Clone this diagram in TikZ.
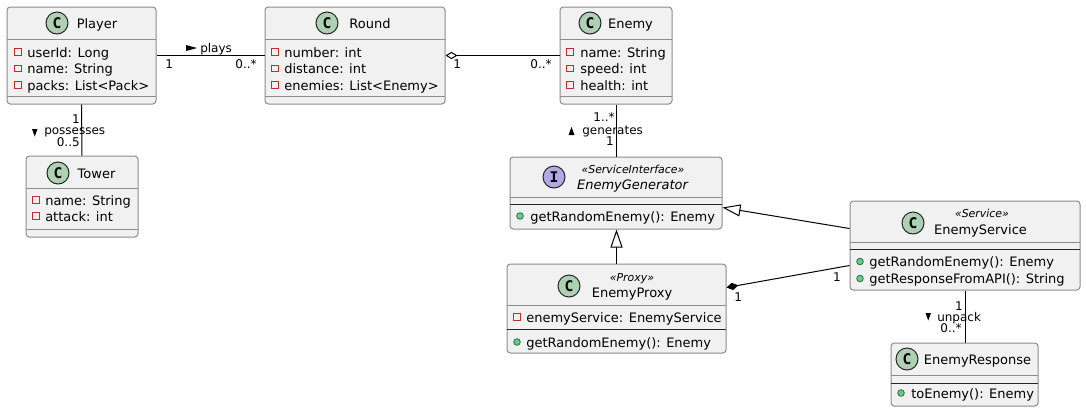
\documentclass[tikz,border=0pt]{standalone}
\usepackage{fontspec}
\setmainfont{DejaVu Sans}
\newfontfamily\circfont{DejaVu Sans Mono}
\usetikzlibrary{fit,arrows.meta,calc}
\definecolor{boxfill}{HTML}{F1F1F1}
\definecolor{boxborder}{HTML}{8C8C8C}
\definecolor{cgreen}{HTML}{ADD1B2}
\definecolor{ipurple}{HTML}{B4A7E5}
\definecolor{privred}{HTML}{C82930}
\definecolor{pubfill}{HTML}{84BE84}
\definecolor{pubdraw}{HTML}{038048}
\tikzset{
  cls/.style={draw=boxborder, fill=boxfill, rounded corners=2.5pt, line width=0.75pt, inner sep=0pt},
  sepline/.style={draw=boxborder, line width=0.75pt},
  msepline/.style={draw=black!85, line width=0.75pt},
  attr/.style={font=\fontsize{9.75}{11}\selectfont, inner sep=0pt, anchor=base west},
  cname/.style={font=\fontsize{9.75}{11}\selectfont, inner sep=0pt, anchor=base},
  stereo/.style={font=\fontsize{8.2}{9}\selectfont\itshape, inner sep=0pt, anchor=base},
  lbl/.style={font=\fontsize{9}{10}\selectfont, inner sep=0pt, anchor=base west},
  lblr/.style={font=\fontsize{9}{10}\selectfont, inner sep=0pt, anchor=base east},
  dirmark/.style={fill=black},
  circC/.style={circle, draw=black!85, line width=0.75pt, fill=cgreen, minimum size=16.5pt, inner sep=0pt, font=\fontsize{11}{11}\selectfont\circfont\bfseries},
  circI/.style={circC, fill=ipurple},
  priv/.style={draw=privred, line width=0.75pt},
  pub/.style={draw=pubdraw, fill=pubfill, line width=0.6pt},
  link/.style={draw=black, line width=0.75pt},
}
\newcommand{\privat}[2]{\draw[priv] (#1,#2) ++(-3.2,-3.2) rectangle ++(6.4,6.4);}
\newcommand{\publc}[2]{\draw[pub] (#1,#2) circle[radius=3.3];}
\begin{document}
\begin{tikzpicture}[x=0.75pt,y=-0.75pt]
\useasboundingbox (0,0) rectangle (1086,412);

% ---------- Player ----------
\node[cls, fit={(7,7) (156,104)}] (player) {};
\draw[sepline] (7,39) -- (156,39);
\draw[sepline] (7,96) -- (156,96);
\node[circC] (cplayer) at (57,23) {C};
\node[cname] (nplayer) at (97,28) {Player};
\privat{18}{52}\node[attr] (pl1) at (27,57) {userId: Long};
\privat{18}{68.5}\node[attr] (pl2) at (27,73.5) {name: String};
\privat{18}{85}\node[attr] (pl3) at (27,90) {packs: List<Pack>};

% ---------- Round ----------
\node[cls, fit={(265,7) (445,104)}] (round) {};
\draw[sepline] (265,39) -- (445,39);
\draw[sepline] (265,96) -- (445,96);
\node[circC] (cround) at (327,23) {C};
\node[cname] (nround) at (370,28) {Round};
\privat{275}{52}\node[attr] (ro1) at (284,57) {number: int};
\privat{275}{68.5}\node[attr] (ro2) at (284,73.5) {distance: int};
\privat{275}{85}\node[attr] (ro3) at (284,90) {enemies: List<Enemy>};

% ---------- Enemy ----------
\node[cls, fit={(560,7) (672,104)}] (enemy) {};
\draw[sepline] (560,39) -- (672,39);
\draw[sepline] (560,96) -- (672,96);
\node[circC] (cenemy) at (590,23) {C};
\node[cname] (nenemy) at (630.5,28) {Enemy};
\privat{570}{52}\node[attr] (en1) at (580,57) {name: String};
\privat{570}{68.5}\node[attr] (en2) at (580,73.5) {speed: int};
\privat{570}{85}\node[attr] (en3) at (580,90) {health: int};

% ---------- Tower ----------
\node[cls, fit={(26,156) (138,237)}] (tower) {};
\draw[sepline] (26,188) -- (138,188);
\draw[sepline] (26,229) -- (138,229);
\node[circC] (ctower) at (58,173) {C};
\node[cname] (ntower) at (96.5,178) {Tower};
\privat{36}{200}\node[attr] (to1) at (45,205) {name: String};
\privat{36}{216}\node[attr] (to2) at (45,221) {attack: int};

% ---------- EnemyGenerator ----------
\node[cls, fit={(510,157) (722,229)}] (gen) {};
\draw[sepline] (510,197) -- (722,197);
\draw[msepline] (510,204) -- (722,204);
\node[circI] (cgen) at (554,177) {I};
\node[stereo] (sgen) at (633,173) {«ServiceInterface»};
\node[cname, font=\fontsize{9.75}{11}\selectfont\itshape] (ngen) at (632.5,189) {EnemyGenerator};
\publc{520}{216}\node[attr] (ge1) at (530,221) {getRandomEnemy(): Enemy};

% ---------- EnemyService ----------
\node[cls, fit={(850,201) (1080,290)}] (service) {};
\draw[sepline] (850,242) -- (1080,242);
\draw[msepline] (850,249) -- (1080,249);
\node[circC] (cservice) at (913,223) {C};
\node[stereo] (sservice) at (982,217) {«Service»};
\node[cname] (nservice) at (980.5,234) {EnemyService};
\publc{860}{261.5}\node[attr] (se1) at (869,266.5) {getRandomEnemy(): Enemy};
\publc{860}{278.5}\node[attr] (se2) at (869,283.5) {getResponseFromAPI(): String};

% ---------- EnemyProxy ----------
\node[cls, fit={(507,264) (726,353)}] (proxy) {};
\draw[sepline] (507,305) -- (726,305);
\draw[msepline] (507,329) -- (726,329);
\node[circC] (cproxy) at (569,286) {C};
\node[stereo] (sproxy) at (632,281) {«Proxy»};
\node[cname] (nproxy) at (632,297) {EnemyProxy};
\privat{517}{317}\node[attr] (px1) at (526,322) {enemyService: EnemyService};
\publc{517}{342}\node[attr] (px2) at (526,347) {getRandomEnemy(): Enemy};

% ---------- EnemyResponse ----------
\node[cls, fit={(891,343) (1038,406)}] (resp) {};
\draw[sepline] (891,375) -- (1038,375);
\draw[msepline] (891,383) -- (1038,383);
\node[circC] (cresp) at (907,359) {C};
\node[cname] (nresp) at (977.5,364) {EnemyResponse};
\publc{901}{393}\node[attr] (re1) at (911,398) {toEnemy(): Enemy};

% ---------- connectors ----------
% plays
\draw[link] (player.east) -- (round.west);
\fill[dirmark] (186,45) -- (197,48) -- (186,51) -- cycle;
\node[lbl] (lplays) at (200,52) {plays};
\node[lbl] (mplays1) at (165,68) {1};
\node[lblr] (mplays2) at (257,68) {0..*};

% aggregation Round - Enemy
\draw[link, {Diamond[open, fill=white, length=9pt, width=5.5pt, line width=0.75pt]}-] (round.east) -- (enemy.west);
\node[lbl] (magg1) at (453,68) {1};
\node[lblr] (magg2) at (552,68) {0..*};

% possesses
\draw[link] (player.south) -- (tower.north);
\fill[dirmark] (32,129) -- (37.5,129) -- (34.75,136.5) -- cycle;
\node[lbl] (lposs) at (44,134) {possesses};
\node[lblr] (mposs1) at (80,123) {1};
\node[lblr] (mposs2) at (80,146) {0..5};

% generates
\draw[link] (enemy.south) -- (gen.north);
\fill[dirmark] (568.5,135) -- (574.5,135) -- (571.5,127) -- cycle;
\node[lbl] (lgen) at (582,134) {generates};
\node[lblr] (mgen1) at (615,121) {1..*};
\node[lblr] (mgen2) at (614,145) {1};

% EnemyProxy realizes EnemyGenerator
\draw[link, -{Triangle[open, fill=white, length=13.5pt, width=9pt, line width=0.75pt]}] (proxy.north) -- (proxy.north |- gen.south);

% EnemyService realizes EnemyGenerator
\draw[link, -{Triangle[open, fill=white, length=13.5pt, width=9pt, line width=0.75pt]}] ($(service.north west)+(0,28)$) -- ($(gen.north east)+(0,51)$);

% composition EnemyProxy - EnemyService
\draw[link, {Diamond[fill=black, length=9pt, width=5.5pt]}-] ($(proxy.north east)+(0,24)$) -- ($(service.north west)+(0,65)$);
\node[lbl] (mcomp1) at (734,301) {1};
\node[lblr] (mcomp2) at (841,281) {1};

% unpack
\draw[link] (service.south) -- (service.south |- resp.north);
\fill[dirmark] (925.5,313) -- (931,313) -- (928.25,320.5) -- cycle;
\node[lbl] (lunp) at (937,321) {unpack};
\node[lblr] (munp1) at (963,310) {1};
\node[lblr] (munp2) at (962,332) {0..*};
\end{tikzpicture}
\end{document}
